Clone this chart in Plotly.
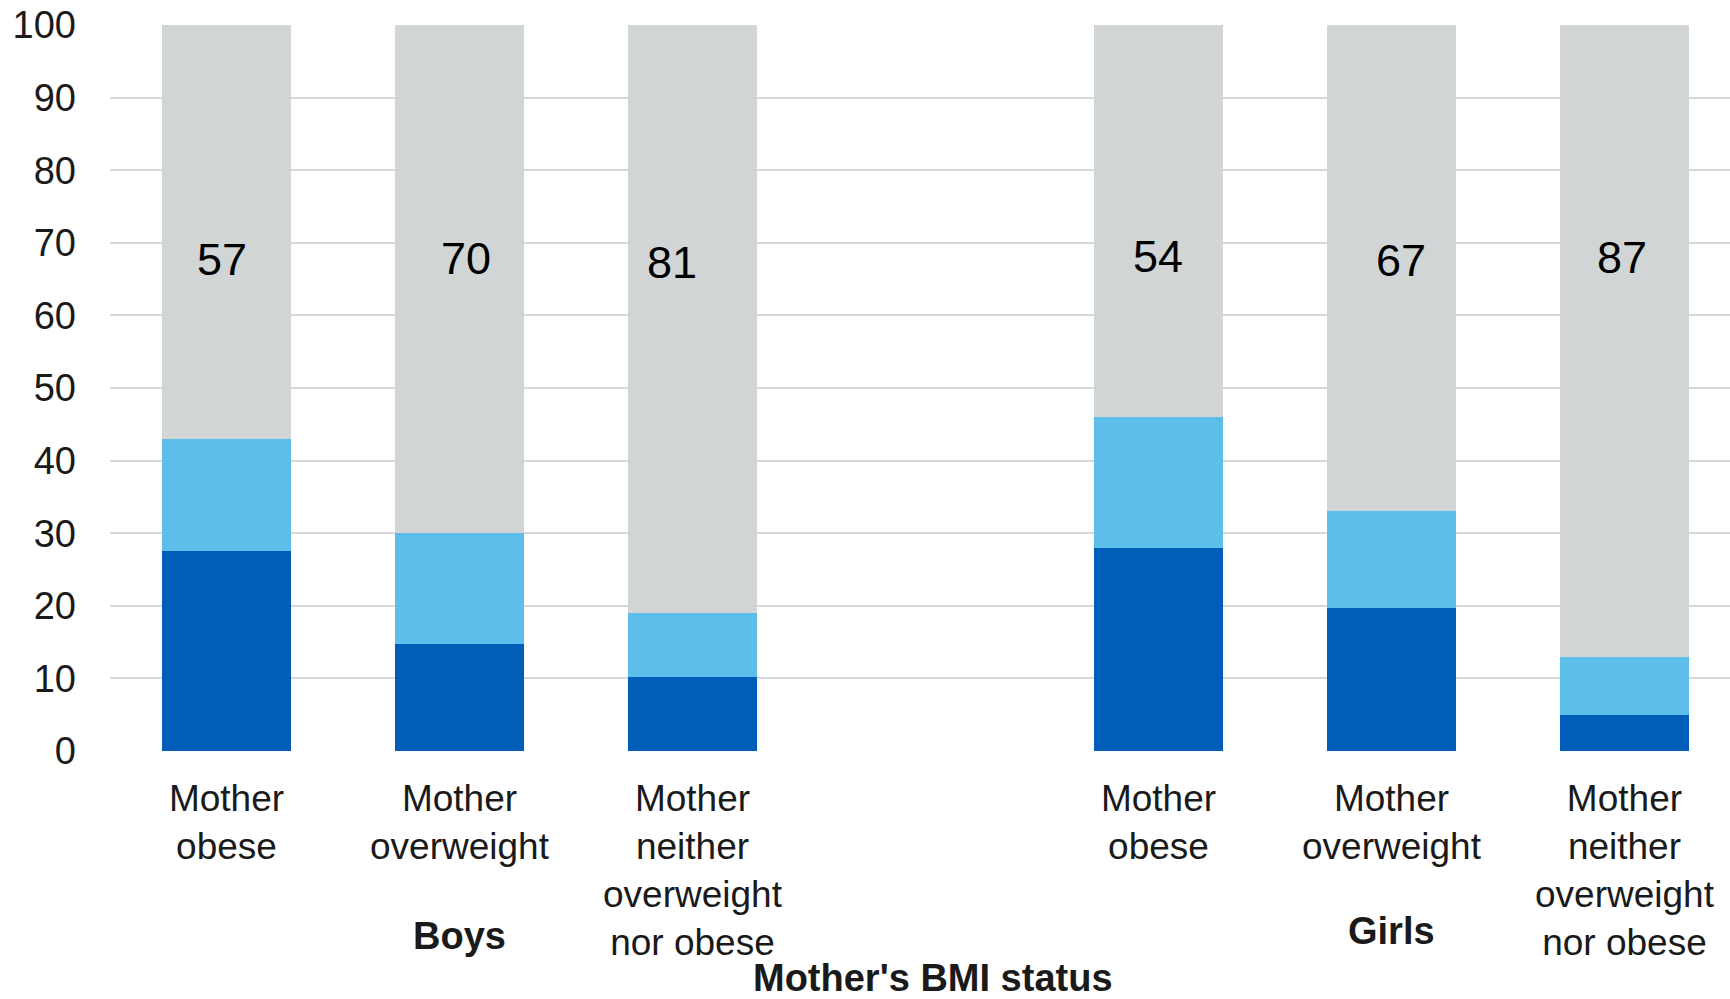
import plotly.graph_objects as go

# Mother's BMI categories, repeated for each child group
categories = [
    "Mother<br>obese",
    "Mother<br>overweight",
    "Mother<br>neither<br>overweight<br>nor obese",
]
groups = ["Boys", "Girls"]

# Percentages per bar (Boys then Girls)
obese = [27.5, 14.7, 10.2, 28.0, 19.7, 4.9]
not_obese_overweight = [15.5, 15.3, 8.8, 18.0, 13.3, 8.1]
neither = [57, 70, 81, 54, 67, 87]

y_ticks = list(range(0, 101, 10))

# Bar positions: three bars per group, one empty slot between groups
n_cat = len(categories)
x_pos = [g * (n_cat + 1) + i for g in range(len(groups)) for i in range(n_cat)]
tick_text = categories * len(groups)

DARK = "#005EB8"
LIGHT = "#5DBFE9"
GREY = "#D1D5D6"
FONT = "Liberation Sans, Arial, sans-serif"
TXT = "#1a1a1a"

fig = go.Figure()
for vals, col in [(obese, DARK), (not_obese_overweight, LIGHT), (neither, GREY)]:
    fig.add_trace(go.Bar(
        x=x_pos, y=vals, width=0.55, marker=dict(color=col, line=dict(width=0)),
        showlegend=False, hoverinfo="skip",
    ))

# Value labels in the grey segment
label_dx = [-5, 7, -20, 0, 10, -2]
label_dy = [0, 1, -3, 3, -1, 2]
for x, v, dx, dy in zip(x_pos, neither, label_dx, label_dy):
    fig.add_annotation(
        x=x, y=67.7, text=str(v), showarrow=False, xshift=dx, yshift=dy,
        font=dict(family=FONT, size=45, color="#000000"),
    )

# Group names under the middle bar of each group
group_dy = [-185, -180]
for g, name in enumerate(groups):
    fig.add_annotation(
        x=x_pos[g * n_cat + 1], y=0, yref="y", yshift=group_dy[g], text=f"<b>{name}</b>",
        showarrow=False, font=dict(family=FONT, size=38, color=TXT),
    )

fig.add_annotation(
    x=(x_pos[0] + x_pos[-1]) / 2, y=0, yref="y", yshift=-227, xshift=8,
    text="<b>Mother's BMI status</b>", showarrow=False,
    font=dict(family=FONT, size=38, color=TXT),
)

fig.update_layout(
    width=1730, height=999,
    margin=dict(l=110, r=0, t=25, b=248),
    paper_bgcolor="white", plot_bgcolor="white",
    barmode="stack", bargap=0,
    xaxis=dict(
        range=[-0.5, 6.453], tickvals=x_pos, ticktext=tick_text,
        showgrid=False, zeroline=False, showline=False, ticks="",
        tickfont=dict(family=FONT, size=37, color=TXT), ticklabelstandoff=22,
    ),
    yaxis=dict(
        range=[0, 100], tickvals=y_ticks, showgrid=True, gridcolor="#D9D9D9",
        gridwidth=2, zeroline=False, showline=False, ticks="",
        tickfont=dict(family=FONT, size=38, color=TXT), ticklabelstandoff=33,
    ),
)

fig.write_html("out.html")
